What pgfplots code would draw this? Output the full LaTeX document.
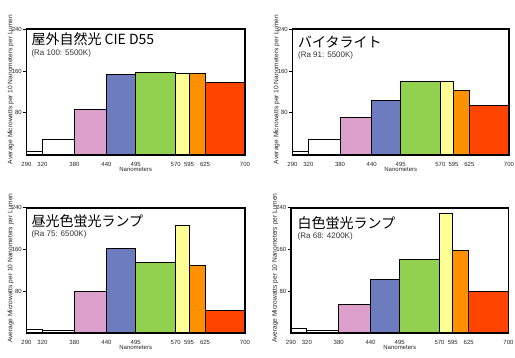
\documentclass[border=0pt]{standalone}
\usepackage{pgfplots}
\pgfplotsset{compat=1.18}
\usepackage{fontspec}
\setmainfont{Liberation Sans}
\newfontfamily\jp{Noto Sans CJK JP}
\definecolor{cpink}{RGB}{221,160,205}
\definecolor{cblue}{RGB}{108,124,190}
\definecolor{cgreen}{RGB}{146,208,80}
\definecolor{cyellow}{RGB}{255,255,150}
\definecolor{corange}{RGB}{255,145,0}
\definecolor{cred}{RGB}{255,68,0}
\pgfplotsset{
  panel/.style={
    scale only axis, width=218.5pt, height=125.4pt, anchor=south west,
    xmin=290, xmax=700, ymin=0, ymax=240,
    xtick={290,320,380,440,495,570,595,625,700},
    ytick={80,160,240},
    ytick pos=left,
    xtick style={draw=none},
    ytick style={line width=0.9pt, black},
    major tick length=3.5pt, tick align=outside,
    axis line style={line width=1.8pt},
    axis on top,
    /pgf/number format/assume math mode=true,
    tick label style={font=\fontsize{6}{7}\selectfont, text=black!85},
    xticklabel style={yshift=-0.3pt},
    yticklabel style={inner sep=1pt},
    xlabel={Nanometers},
    xlabel style={at={(axis description cs:0.5,-0.115)}, anchor=center, font=\fontsize{6}{7}\selectfont, text=black!85},
    ylabel={Average Microwatts per 10 Nanometers per Lumen},
    ylabel style={at={(axis description cs:-0.073,0.52)}, anchor=center, font=\fontsize{6.6}{7}\selectfont, text=black!85},
    every axis plot/.append style={draw=black, line width=0.9pt},
  }
}
\begin{document}
\begin{tikzpicture}[x=1pt,y=1pt]
\useasboundingbox (0,0) rectangle (515,357);
% Panel 1
\begin{axis}[panel, at={(26.5pt,202.3pt)}]
\addplot[fill=white]   coordinates {(290,0) (290,6.5) (320,6.5) (320,0)} -- cycle;
\addplot[fill=white]   coordinates {(320,0) (320,29.5) (380,29.5) (380,0)} -- cycle;
\addplot[fill=cpink]   coordinates {(380,0) (380,87) (440,87) (440,0)} -- cycle;
\addplot[fill=cblue]   coordinates {(440,0) (440,154) (495,154) (495,0)} -- cycle;
\addplot[fill=cgreen]  coordinates {(495,0) (495,158) (570,158) (570,0)} -- cycle;
\addplot[fill=cyellow] coordinates {(570,0) (570,156) (595,156) (595,0)} -- cycle;
\addplot[fill=corange] coordinates {(595,0) (595,156) (625,156) (625,0)} -- cycle;
\addplot[fill=cred]    coordinates {(625,0) (625,139) (700,139) (700,0)} -- cycle;
\node[anchor=west, inner sep=0] at (rel axis cs:0.022,0.92) {\jp\fontsize{14}{15}\selectfont 屋外自然光 CIE D55};
\node[anchor=west, inner sep=0, text=black!80] at (rel axis cs:0.022,0.81) {\fontsize{8}{9}\selectfont (Ra 100: 5500K)};
\end{axis}
% Panel 2
\begin{axis}[panel, width=216.5pt, at={(292.5pt,202.3pt)}]
\addplot[fill=white]   coordinates {(290,0) (290,5.7) (320,5.7) (320,0)} -- cycle;
\addplot[fill=white]   coordinates {(320,0) (320,29.5) (380,29.5) (380,0)} -- cycle;
\addplot[fill=cpink]   coordinates {(380,0) (380,71.6) (440,71.6) (440,0)} -- cycle;
\addplot[fill=cblue]   coordinates {(440,0) (440,104) (495,104) (495,0)} -- cycle;
\addplot[fill=cgreen]  coordinates {(495,0) (495,140) (570,140) (570,0)} -- cycle;
\addplot[fill=cyellow] coordinates {(570,0) (570,140) (595,140) (595,0)} -- cycle;
\addplot[fill=corange] coordinates {(595,0) (595,123) (625,123) (625,0)} -- cycle;
\addplot[fill=cred]    coordinates {(625,0) (625,94.5) (700,94.5) (700,0)} -- cycle;
\node[anchor=west, inner sep=0] at (rel axis cs:0.025,0.90) {\jp\fontsize{14}{15}\selectfont バイタライト};
\node[anchor=west, inner sep=0, text=black!80] at (rel axis cs:0.025,0.795) {\fontsize{8}{9}\selectfont (Ra 91: 5500K)};
\end{axis}
% Panel 3
\begin{axis}[panel, at={(26.5pt,23.7pt)}]
\addplot[fill=white]   coordinates {(290,0) (290,7) (320,7) (320,0)} -- cycle;
\addplot[fill=white]   coordinates {(320,0) (320,5) (380,5) (380,0)} -- cycle;
\addplot[fill=cpink]   coordinates {(380,0) (380,80) (440,80) (440,0)} -- cycle;
\addplot[fill=cblue]   coordinates {(440,0) (440,162) (495,162) (495,0)} -- cycle;
\addplot[fill=cgreen]  coordinates {(495,0) (495,135) (570,135) (570,0)} -- cycle;
\addplot[fill=cyellow] coordinates {(570,0) (570,206) (595,206) (595,0)} -- cycle;
\addplot[fill=corange] coordinates {(595,0) (595,130) (625,130) (625,0)} -- cycle;
\addplot[fill=cred]    coordinates {(625,0) (625,43.5) (700,43.5) (700,0)} -- cycle;
\node[anchor=west, inner sep=0] at (rel axis cs:0.022,0.89) {\jp\fontsize{14}{15}\selectfont 昼光色蛍光ランプ};
\node[anchor=west, inner sep=0, text=black!80] at (rel axis cs:0.022,0.79) {\fontsize{8}{9}\selectfont (Ra 75: 6500K)};
\end{axis}
% Panel 4
\begin{axis}[panel, width=217.5pt, at={(291pt,23.7pt)}]
\addplot[fill=white]   coordinates {(290,0) (290,8.4) (320,8.4) (320,0)} -- cycle;
\addplot[fill=white]   coordinates {(320,0) (320,5.7) (380,5.7) (380,0)} -- cycle;
\addplot[fill=cpink]   coordinates {(380,0) (380,56) (440,56) (440,0)} -- cycle;
\addplot[fill=cblue]   coordinates {(440,0) (440,103.6) (495,103.6) (495,0)} -- cycle;
\addplot[fill=cgreen]  coordinates {(495,0) (495,141.7) (570,141.7) (570,0)} -- cycle;
\addplot[fill=cyellow] coordinates {(570,0) (570,229) (595,229) (595,0)} -- cycle;
\addplot[fill=corange] coordinates {(595,0) (595,159) (625,159) (625,0)} -- cycle;
\addplot[fill=cred]    coordinates {(625,0) (625,80) (700,80) (700,0)} -- cycle;
\node[anchor=west, inner sep=0] at (rel axis cs:0.03,0.88) {\jp\fontsize{14}{15}\selectfont 白色蛍光ランプ};
\node[anchor=west, inner sep=0, text=black!80] at (rel axis cs:0.03,0.775) {\fontsize{8}{9}\selectfont (Ra 68: 4200K)};
\end{axis}
\end{tikzpicture}
\end{document}
